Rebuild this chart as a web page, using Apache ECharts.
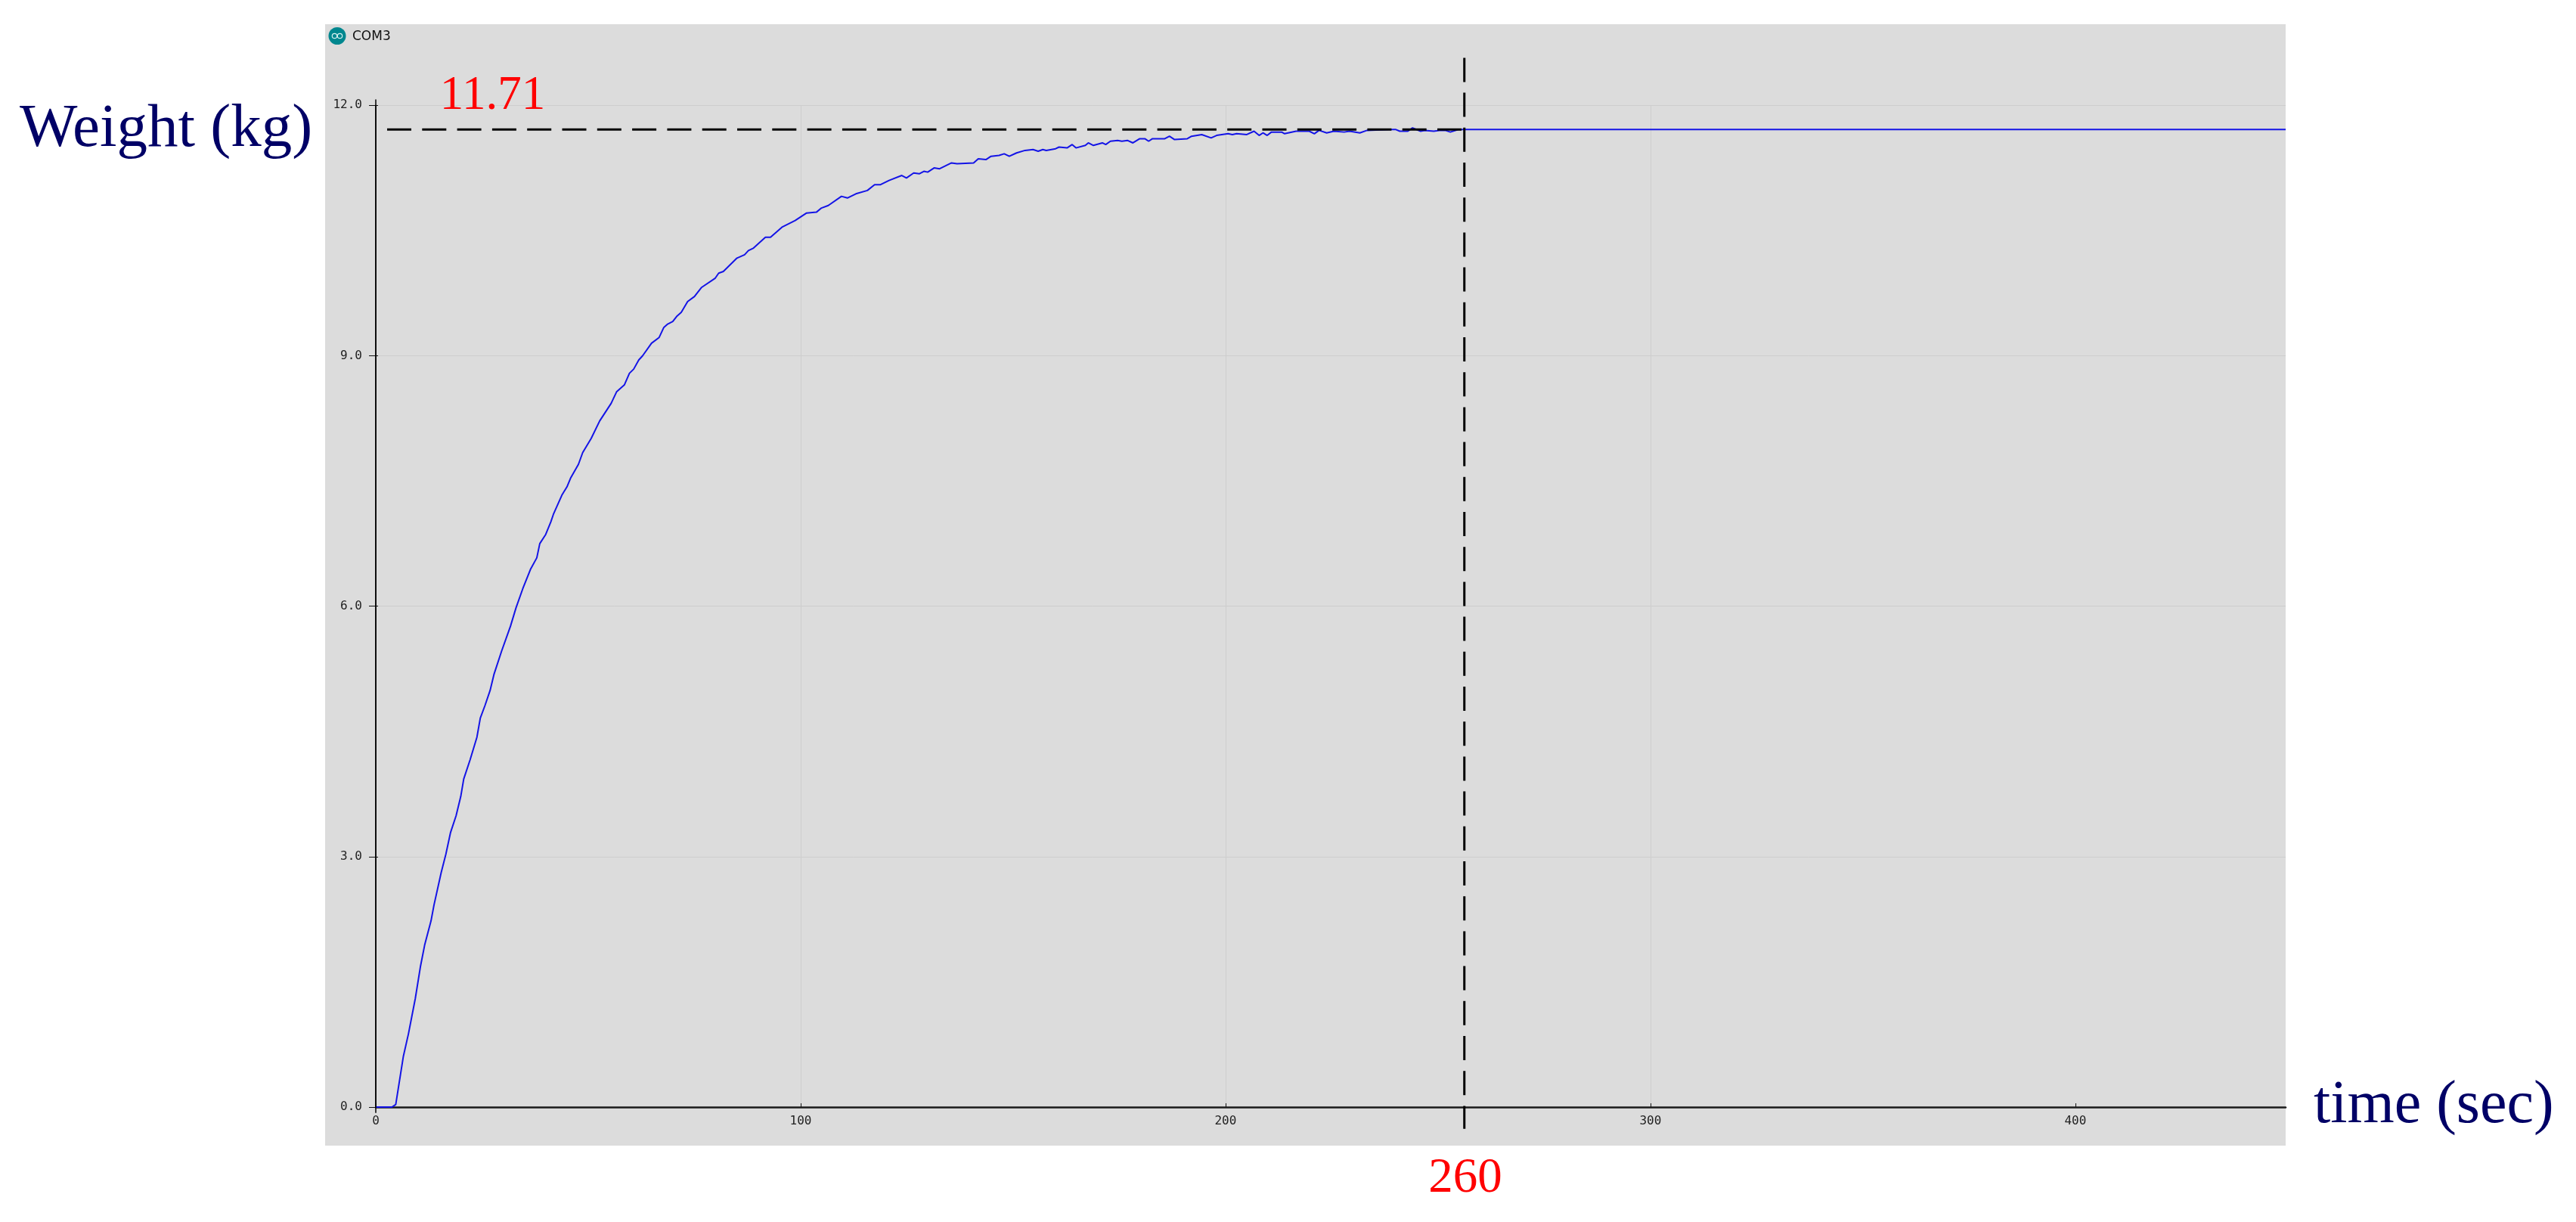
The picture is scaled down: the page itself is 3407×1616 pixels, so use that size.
<!DOCTYPE html>
<html>
<head>
<meta charset="utf-8">
<style>html,body{margin:0;padding:0;background:#fff}#chart{width:3407px;height:1616px}</style>
<script src="https://cdn.jsdelivr.net/npm/echarts@6/dist/echarts.min.js"></script>
</head>
<body>
<div id="chart"></div>
<script>
const timeValues = [0,3.8,4.7,6.5,7.7,9.3,10.5,11.5,13,13.7,15.4,16.5,17.6,18.9,20,20.7,22.2,23.8,24.6,25.7,26.9,27.8,29.6,31.7,33,34.6,36.4,37.9,38.6,40,41.2,41.8,43.8,45,45.9,47.7,48.7,50.7,52.7,55.4,56.7,58.5,59.7,60.7,61.9,62.8,64.9,66.7,67.8,68.7,69.9,70.8,71.9,73.4,75,76.7,79.9,80.7,81.8,85,86.8,87.7,88.9,91.7,92.9,95.6,98.7,101.4,103.7,104.9,106.5,109.6,111,113,115.7,117.4,118.8,120.8,123.8,124.9,126.6,127.9,129,129.9,131.4,132.7,135.5,136.8,140.7,141.8,143.6,144.8,146.7,147.9,149.1,150.8,152.8,154.7,155.9,157,157.8,160,160.8,162.7,163.9,164.8,167,167.7,168.9,171,171.8,172.9,174.6,175.6,176.9,178.2,179.8,181,181.9,182.8,185.7,186.8,188,191,192,194.4,196.6,197.9,200.6,201.6,202.6,205,206.7,207.9,208.8,209.8,210.8,213.2,213.9,216.6,219.7,220.9,222,223.8,225.5,227.9,229.2,231.6,233.3,238.4,240.1,241,242.9,244,245.9,246.9,249,250.3,251.7,252.9,254.8,256.2,449.5];
const weightValues = [0,0,0.03,0.61,0.88,1.30,1.68,1.94,2.23,2.42,2.81,3.03,3.29,3.49,3.72,3.93,4.16,4.43,4.66,4.81,4.99,5.18,5.46,5.76,5.98,6.21,6.44,6.58,6.75,6.86,7.01,7.10,7.33,7.43,7.54,7.70,7.84,8.01,8.22,8.43,8.57,8.65,8.79,8.84,8.95,9.00,9.15,9.22,9.34,9.38,9.41,9.47,9.52,9.65,9.71,9.82,9.93,9.99,10.01,10.17,10.21,10.26,10.29,10.42,10.42,10.54,10.62,10.71,10.72,10.77,10.80,10.91,10.89,10.94,10.98,11.05,11.05,11.10,11.16,11.13,11.19,11.18,11.21,11.20,11.25,11.24,11.31,11.30,11.31,11.36,11.35,11.39,11.40,11.42,11.39,11.43,11.46,11.47,11.45,11.47,11.46,11.48,11.50,11.49,11.53,11.49,11.52,11.55,11.52,11.55,11.53,11.57,11.58,11.57,11.58,11.55,11.60,11.60,11.57,11.60,11.60,11.63,11.59,11.60,11.63,11.65,11.61,11.64,11.66,11.65,11.66,11.65,11.69,11.64,11.67,11.64,11.68,11.68,11.66,11.69,11.69,11.66,11.70,11.67,11.69,11.68,11.69,11.67,11.70,11.71,11.71,11.69,11.69,11.73,11.69,11.70,11.69,11.70,11.70,11.68,11.71,11.71,11.71];
const xTickValues = [0,100,200,300,400];
const yTickStep = 3;
const xMax = 449.5;
const yMax = 12;
const settledWeightLine = [[2.67,11.71],[256.2,11.71]];
const settlingTimeLine = [[256.2,12.57],[256.2,-0.26]];
const yAxisExtension = [[0,-0.07],[0,12.07]];
const yLabelText = 'Weight (kg)';
const xLabelText = 'time (sec)';
const settledLabelText = '11.71';
const settlingLabelText = '260';
const windowTitle = 'COM3';

const points = timeValues.map((t, i) => [t, weightValues[i]]);
const serif = '"Liberation Serif","Times New Roman",serif';
const navy = '#000066';
const mono = '"DejaVu Sans Mono",monospace';

const chart = echarts.init(document.getElementById('chart'), null, {renderer: 'canvas'});
chart.setOption({
  animation: false,
  backgroundColor: '#ffffff',
  grid: {left: 497, top: 139.3, width: 2526, height: 1324.7, containLabel: false},
  xAxis: {
    type: 'value', min: 0, max: xMax, interval: 100,
    axisLine: {show: true, onZero: false, lineStyle: {color: '#1a1a1a', width: 2.5}},
    axisTick: {show: true, inside: true, length: 5, customValues: xTickValues, lineStyle: {color: '#111', width: 1}},
    axisLabel: {show: true, customValues: xTickValues, margin: 11, fontFamily: mono, fontSize: 16, color: '#222', formatter: v => String(v)},
    splitLine: {show: true, showMinLine: false, showMaxLine: false, lineStyle: {color: '#cdcdcd', width: 1}}
  },
  yAxis: [{
    type: 'value', min: 0, max: yMax, interval: yTickStep,
    axisLine: {show: true, onZero: false, lineStyle: {color: '#000', width: 1.5}},
    axisTick: {show: true, length: 9, lineStyle: {color: '#111', width: 1}},
    axisLabel: {show: true, margin: 18, padding: [3, 0, 0, 0], fontFamily: mono, fontSize: 16, color: '#222', formatter: v => v.toFixed(1)},
    splitLine: {show: true, showMinLine: false, lineStyle: {color: '#cdcdcd', width: 1}}
  }, {
    type: 'value', min: 0, max: yMax, interval: yTickStep, position: 'left',
    axisLine: {show: false},
    axisTick: {show: true, inside: true, length: 3, lineStyle: {color: '#111', width: 1}},
    axisLabel: {show: false},
    splitLine: {show: false}
  }],
  series: [
    {name: 'Weight', type: 'line', data: points, showSymbol: false, symbol: 'none', smooth: false, z: 3,
     lineStyle: {color: '#1414e6', width: 2}},
    {name: 'Settled weight', type: 'line', data: settledWeightLine, symbol: 'none', clip: false, z: 5,
     lineStyle: {color: '#000', width: 3, type: [32, 14.3]}},
    {name: 'Settling time', type: 'line', data: settlingTimeLine, symbol: 'none', clip: false, z: 5,
     lineStyle: {color: '#000', width: 3, type: [32, 14.2]}},
    {name: 'Y axis', type: 'line', data: yAxisExtension, symbol: 'none', clip: false, z: 4,
     lineStyle: {color: '#000', width: 1.5}}
  ],
  graphic: [
    {type: 'rect', z: -10, silent: true, shape: {x: 430, y: 32, width: 2593, height: 1483}, style: {fill: '#dcdcdc'}},
    {type: 'circle', z: 10, silent: true, shape: {cx: 446, cy: 47.5, r: 11.5}, style: {fill: '#00878f'}},
    {type: 'circle', z: 11, silent: true, shape: {cx: 442.5, cy: 47.5, r: 3.2}, style: {fill: 'none', stroke: '#d8f0f0', lineWidth: 1.2}},
    {type: 'circle', z: 11, silent: true, shape: {cx: 449.5, cy: 47.5, r: 3.2}, style: {fill: 'none', stroke: '#d8f0f0', lineWidth: 1.2}},
    {type: 'text', z: 10, silent: true, x: 466, y: 48.5, style: {text: windowTitle, font: '17px "DejaVu Sans"', fill: '#111', verticalAlign: 'middle', align: 'left'}},
    {type: 'text', z: 10, silent: true, x: 26, y: 172, style: {text: yLabelText, font: '81px ' + serif, fill: navy, verticalAlign: 'middle', align: 'left'}},
    {type: 'text', z: 10, silent: true, x: 3060, y: 1463, style: {text: xLabelText, font: '80px ' + serif, fill: navy, verticalAlign: 'middle', align: 'left'}},
    {type: 'text', z: 10, silent: true, x: 651.5, y: 127, style: {text: settledLabelText, font: '63px ' + serif, fill: '#ff0000', verticalAlign: 'middle', align: 'center'}},
    {type: 'text', z: 10, silent: true, x: 1938, y: 1559, style: {text: settlingLabelText, font: '65px ' + serif, fill: '#ff0000', verticalAlign: 'middle', align: 'center'}}
  ]
});
</script>
</body>
</html>
